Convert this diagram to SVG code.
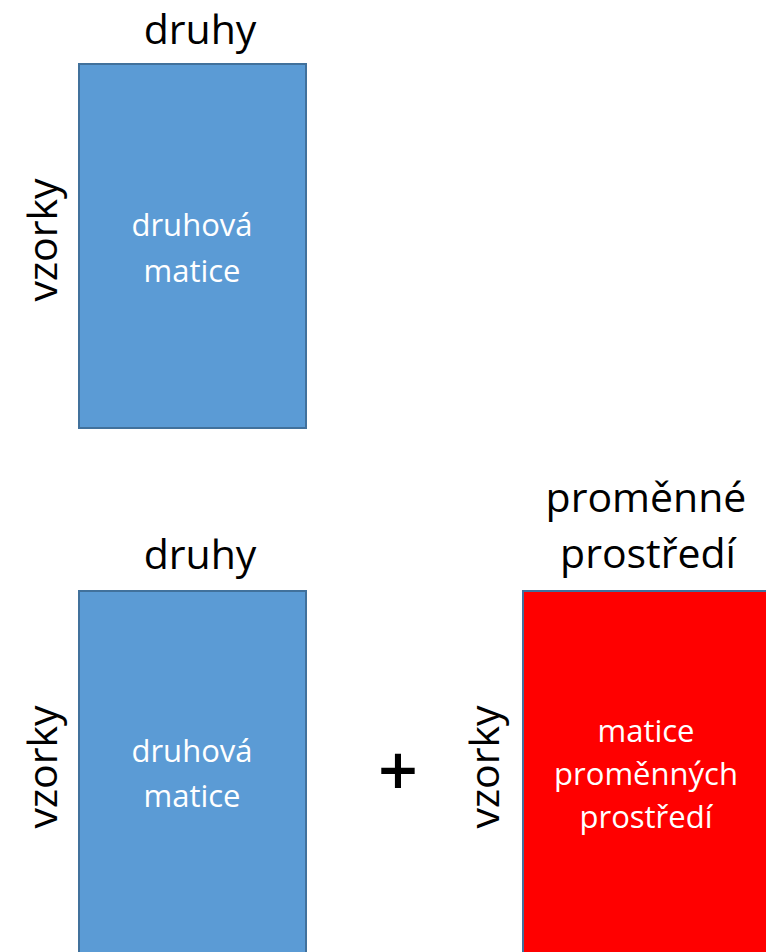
<svg xmlns="http://www.w3.org/2000/svg" width="766" height="952" viewBox="0 0 766 952">
<style>
.lbl{font-family:"Open Sans","Liberation Sans",sans-serif;font-size:41px;fill:#000;text-anchor:middle}
.in{font-family:"Open Sans","Liberation Sans",sans-serif;font-size:31px;fill:#fff;text-anchor:middle}
.blue{fill:#5B9BD5;stroke:#41719C;stroke-width:2}
.red{fill:#FF0000;stroke:#41719C;stroke-width:2}
</style>
<rect width="766" height="952" fill="#fff"/>
<g id="top-matrix">
<text class="lbl" x="200" y="44">druhy</text>
<text class="lbl" transform="translate(57,240) rotate(-90)">vzorky</text>
<rect class="blue" x="79" y="64" width="227" height="364"/>
<text class="in" x="192" y="236">druhová</text>
<text class="in" x="192" y="282">matice</text>
</g>
<g id="bottom-species-matrix">
<text class="lbl" x="200" y="569">druhy</text>
<text class="lbl" transform="translate(57,767) rotate(-90)">vzorky</text>
<rect class="blue" x="79" y="591" width="227" height="380"/>
<text class="in" x="192" y="762">druhová</text>
<text class="in" x="192" y="807">matice</text>
</g>
<g id="plus">
<text class="lbl" x="398" y="796" style="font-size:70px;font-weight:600">+</text>
</g>
<g id="env-matrix">
<text class="lbl" x="646" y="512">proměnné</text>
<text class="lbl" x="648" y="568">prostředí</text>
<text class="lbl" transform="translate(499,767) rotate(-90)">vzorky</text>
<rect class="red" x="523" y="591" width="260" height="380"/>
<text class="in" x="646" y="742">matice</text>
<text class="in" x="646" y="785">proměnných</text>
<text class="in" x="646" y="828">prostředí</text>
</g>
<g id="connectors"></g>
</svg>
